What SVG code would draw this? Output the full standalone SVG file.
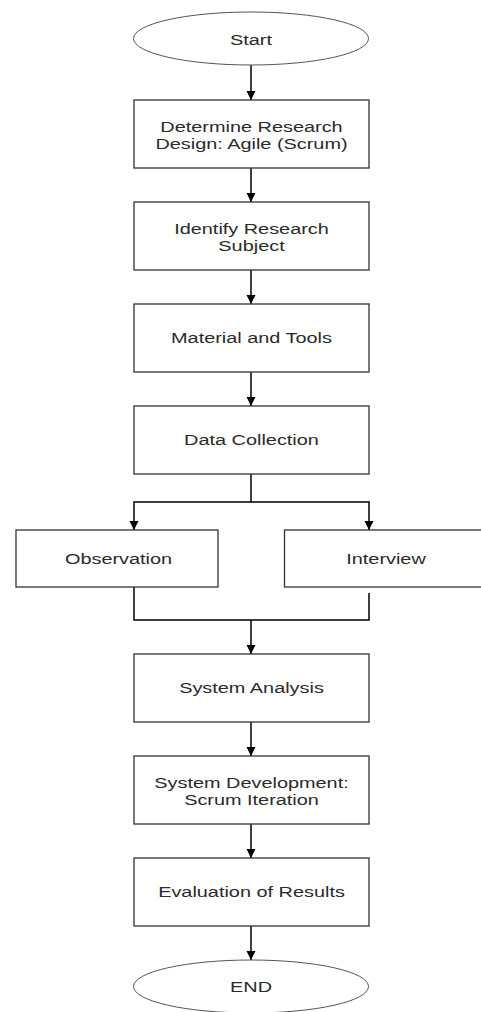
<svg xmlns="http://www.w3.org/2000/svg" width="481" height="1012" viewBox="0 0 481 1012">
<defs>
<style>
.box{fill:#fff;stroke:#333;stroke-width:1.3}
.term{fill:#fff;stroke:#555;stroke-width:1}
.lbl{font-family:"Liberation Sans",Arial,sans-serif;font-size:14px;fill:#2a2a2a;text-anchor:middle}
.con{fill:none;stroke:#000;stroke-width:1.5}
</style>
<marker id="ah" markerUnits="userSpaceOnUse" markerWidth="10" markerHeight="10" viewBox="0 0 10 10" refX="9" refY="5" orient="auto">
<path d="M0,0.5 L9,5 L0,9.5 Z" fill="#000"/>
</marker>
</defs>
<rect width="481" height="1012" fill="#fff"/>
<g id="connectors">
<path class="con" d="M251,65 V100" marker-end="url(#ah)"/>
<path class="con" d="M251,168 V202" marker-end="url(#ah)"/>
<path class="con" d="M251,270 V304" marker-end="url(#ah)"/>
<path class="con" d="M251,372 V406" marker-end="url(#ah)"/>
<path class="con" d="M251,474 V502 H134 V530" marker-end="url(#ah)"/>
<path class="con" d="M251,502 H369 V530" marker-end="url(#ah)"/>
<path class="con" d="M134,587 V620 H251"/>
<path class="con" d="M369,593 V620 H251"/>
<path class="con" d="M251,620 V654" marker-end="url(#ah)"/>
<path class="con" d="M251,722 V756" marker-end="url(#ah)"/>
<path class="con" d="M251,824 V858" marker-end="url(#ah)"/>
<path class="con" d="M251,926 V960" marker-end="url(#ah)"/>
</g>
<g id="start">
<ellipse class="term" cx="251" cy="38.5" rx="117.5" ry="26.5"/>
<text class="lbl" transform="translate(251,44.5) scale(1.42,1)">Start</text>
</g>
<g id="design">
<rect class="box" x="134" y="100" width="235" height="68"/>
<text class="lbl" transform="translate(251.5,132) scale(1.42,1)">Determine Research</text>
<text class="lbl" transform="translate(251.5,148.5) scale(1.42,1)">Design: Agile (Scrum)</text>
</g>
<g id="subject">
<rect class="box" x="134" y="202" width="235" height="68"/>
<text class="lbl" transform="translate(251.5,234.3) scale(1.42,1)">Identify Research</text>
<text class="lbl" transform="translate(251.5,251) scale(1.42,1)">Subject</text>
</g>
<g id="material">
<rect class="box" x="134" y="304" width="235" height="68"/>
<text class="lbl" transform="translate(251.5,343) scale(1.42,1)">Material and Tools</text>
</g>
<g id="datacollection">
<rect class="box" x="134" y="406" width="235" height="68"/>
<text class="lbl" transform="translate(251.5,445) scale(1.42,1)">Data Collection</text>
</g>
<g id="observation">
<rect class="box" x="16" y="530" width="202" height="57"/>
<text class="lbl" transform="translate(118.5,564) scale(1.42,1)">Observation</text>
</g>
<g id="interview">
<rect class="box" x="284.5" y="530" width="204" height="57"/>
<text class="lbl" transform="translate(386,564) scale(1.42,1)">Interview</text>
</g>
<g id="analysis">
<rect class="box" x="134" y="654" width="235" height="68"/>
<text class="lbl" transform="translate(251.5,693) scale(1.42,1)">System Analysis</text>
</g>
<g id="development">
<rect class="box" x="134" y="756" width="235" height="68"/>
<text class="lbl" transform="translate(251.5,788.3) scale(1.42,1)">System Development:</text>
<text class="lbl" transform="translate(251.5,805) scale(1.42,1)">Scrum Iteration</text>
</g>
<g id="evaluation">
<rect class="box" x="134" y="858" width="235" height="68"/>
<text class="lbl" transform="translate(251.5,897) scale(1.42,1)">Evaluation of Results</text>
</g>
<g id="end">
<ellipse class="term" cx="251" cy="986.5" rx="117.5" ry="26.5"/>
<text class="lbl" transform="translate(251,992) scale(1.42,1)">END</text>
</g>
</svg>
